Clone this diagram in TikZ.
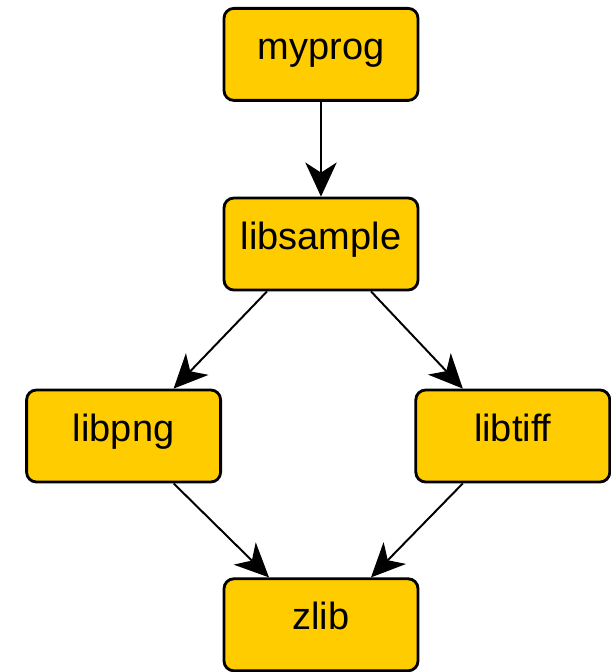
\documentclass[tikz,border=0pt]{standalone}
\usepackage{fontspec}
\setmainfont{Liberation Sans}
\usetikzlibrary{positioning, arrows.meta}
\definecolor{LibYellow}{HTML}{FFCC00}

\begin{document}
\begin{tikzpicture}[
  lib/.style={draw=black, line width=2pt, rounded corners=7pt, fill=LibYellow,
    minimum width=4.85cm, minimum height=2.3cm, text height=0.85em, text depth=0.13em,
    font=\fontsize{27}{31}\selectfont},
  dep/.style={line width=1.4pt, -{Stealth[length=0.85cm, width=0.78cm, inset=0.25cm]}},
]
\useasboundingbox (0,0) rectangle (15.275,-16.8);

% program and its direct library
\node[lib] (myprog) at (8.025,-1.36) {myprog};
\node[lib, below=2.37cm of myprog] (libsample) {libsample};

% image libraries
\node[lib] (libpng) at (3.09,-10.9) {libpng};
\node[lib] (libtiff) at (12.82,-10.9) {libtiff};

% shared compression library
\node[lib] (zlib) at (8.025,-15.62) {zlib};

% dependencies
\draw[dep, line width=2pt] (myprog) -- (libsample);
\draw[dep] ([xshift=-1.35cm]libsample.south) -- ([xshift=1.25cm]libpng.north);
\draw[dep] ([xshift=1.25cm]libsample.south) -- ([xshift=-1.25cm]libtiff.north);
\draw[dep] ([xshift=1.25cm]libpng.south) -- ([xshift=-1.3cm]zlib.north);
\draw[dep] ([xshift=-1.25cm]libtiff.south) -- ([xshift=1.25cm]zlib.north);

\end{tikzpicture}
\end{document}
